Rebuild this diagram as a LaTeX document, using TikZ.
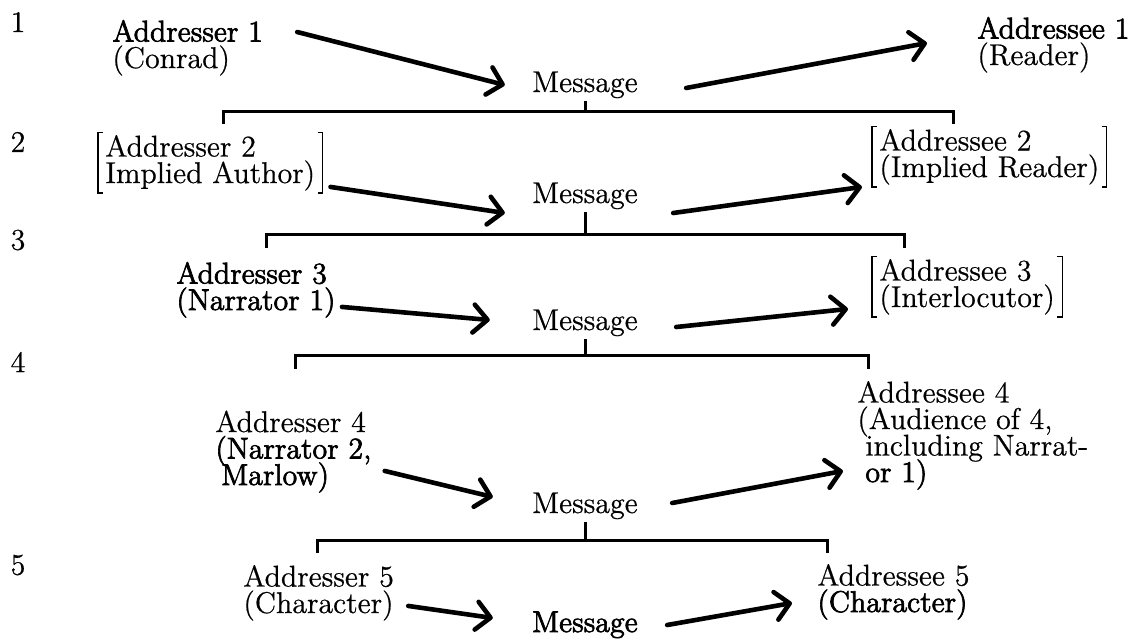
\documentclass[tikz,border=0pt]{standalone}
\usepackage{fontspec}
\usetikzlibrary{arrows.meta}
\newfontfamily\inkfont{lmroman12-regular.otf}[FakeBold=0.6]
\newfontfamily\heavy{lmroman12-regular.otf}[FakeBold=2.2]
\newcommand\diagramfont{\fontsize{15pt}{13.25pt}\selectfont\inkfont\lineskiplimit=-20pt\relax}
% square brackets round a node
\newcommand\sqbrackets[1]{%
  \draw[sqpen] ([xshift=2.5pt]#1.north west) -- (#1.north west) -- (#1.south west) -- ++(2.5pt,0);
  \draw[sqpen] ([xshift=-2.5pt]#1.north east) -- (#1.north east) -- (#1.south east) -- ++(-2.5pt,0);}
\begin{document}
\begin{tikzpicture}[x=0.5pt, y=-0.5pt,
  every node/.style={inner sep=0pt, font=\diagramfont, align=left},
  bracketed/.style={inner xsep=3.5pt, inner ysep=1pt},
  send/.style={line width=2.3pt, line cap=round, -{Straight Barb[length=7pt,width=14pt,round]}},
  brace/.style={line width=1.5pt},
  sqpen/.style={line width=0.6pt}]
\useasboundingbox (0,0) rectangle (1142,639);

% row numbers
\foreach \i/\y in {1/22,2/142,3/240,4/362,5/565}
  \node (n\i) at (18,\y) {\i};

% level 1
\node[anchor=base west] (ar1) at (112,68) {{\heavy Addresser 1}\\(Conrad)};
\node[anchor=base] (msg1) at (585,92) {Message};
\node[anchor=base west] (ae1) at (977,65) {{\heavy Addressee 1}\\(Reader)};
\draw[send] ([shift={(34,-36)}]ar1.base east) -- ([shift={(-27,-7)}]msg1.base west);
\draw[send] ([shift={(48,-4)}]msg1.base east) -- ([shift={(-50,-22)}]ae1.base west);
\coordinate (b1) at (585,111);
\coordinate (b1l) at (223,124);
\coordinate (b1r) at (953,124);
\draw[brace] (b1l) |- (b1) -| (b1r);
\draw[brace] (b1) -- ([yshift=-1pt]msg1.south);

% level 2
\node[anchor=base west, bracketed] (ar2) at (98,183) {Addresser 2\\Implied Author)};
\node[anchor=base] (msg2) at (585,203) {Message};
\node[anchor=base west, bracketed] (ae2) at (872,177) {Addressee 2\\(Implied Reader)};
\sqbrackets{ar2}
\sqbrackets{ae2}
\draw[send] ([shift={(8,-6)}]ar2.south east) -- ([shift={(-27,10)}]msg2.base west);
\draw[send] ([shift={(35,10)}]msg2.base east) -- ([shift={(-10,0)}]ae2.south west);
\coordinate (b2) at (585,234);
\coordinate (b2l) at (266,248);
\coordinate (b2r) at (904,248);
\draw[brace] (b2l) |- (b2) -| (b2r);
\draw[brace] (b2) -- ([yshift=-1pt]msg2.south);

% level 3
\node[anchor=base west, font=\diagramfont\heavy] (ar3) at (176,310) {Addresser 3\\(Narrator 1)};
\node[anchor=base] (msg3) at (585,330) {Message};
\node[anchor=base west, bracketed] (ae3) at (872,307) {Addressee 3\\(Interlocutor)};
\sqbrackets{ae3}
\draw[send] ([shift={(6,-11)}]ar3.south east) -- ([shift={(-42,-10)}]msg3.base west);
\draw[send] ([shift={(38,-3)}]msg3.base east) -- ([shift={(-24,-8)}]ae3.south west);
\coordinate (b3) at (585,355);
\coordinate (b3l) at (295,369);
\coordinate (b3r) at (868,369);
\draw[brace] (b3l) |- (b3) -| (b3r);
\draw[brace] (b3) -- ([yshift=-1pt]msg3.south);

% level 4
\node[anchor=base west] (ar4) at (215,485) {Addresser 4\\{\heavy (Narrator 2,}\\\hspace*{3pt}{\heavy Marlow)}};
\node[anchor=base] (msg4) at (585,513) {Message};
\node[anchor=base west] (ae4) at (857,482) {Addressee 4\\(Audience of 4,\\\hspace*{4pt}including Narrat-\\\hspace*{4pt}{\heavy or 1)}};
\draw[send] ([shift={(13,-22)}]ar4.south east) -- ([shift={(-39,-16)}]msg4.base west);
\draw[send] ([shift={(34,-10)}]msg4.base east) -- ([shift={(-14,-19)}]ae4.south west);
\coordinate (b4) at (585,540);
\coordinate (b4l) at (317,553);
\coordinate (b4r) at (827,553);
\draw[brace] (b4l) |- (b4) -| (b4r);
\draw[brace] (b4) -- ([yshift=-1pt]msg4.south);

% level 5
\node[anchor=base west] (ar5) at (243,613) {Addresser 5\\(Character)};
\node[anchor=base] (msg5) at (585,632) {{\heavy Message}};
\node[anchor=base west] (ae5) at (817,612) {Addressee 5\\{\heavy (Character)}};
\draw[send] ([shift={(14,-15)}]ar5.south east) -- ([shift={(-39,-14)}]msg5.base west);
\draw[send] ([shift={(29,-7)}]msg5.base east) -- ([shift={(-25,-9)}]ae5.base west);
\end{tikzpicture}
\end{document}
